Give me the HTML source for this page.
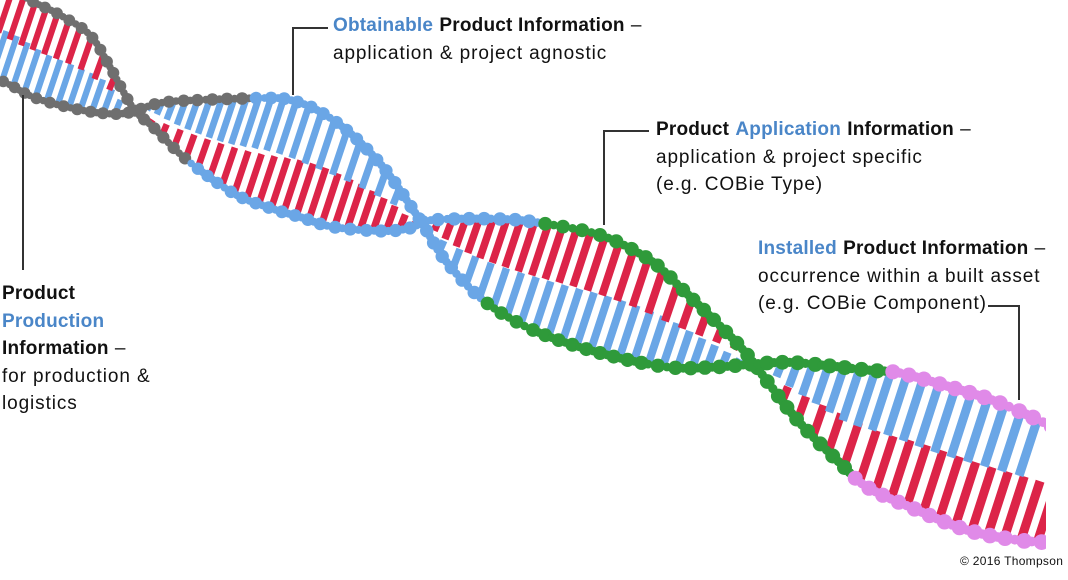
<!DOCTYPE html>
<html><head><meta charset="utf-8"><style>
html,body{margin:0;padding:0;background:#fff;width:1068px;height:580px;overflow:hidden}
#wrap{position:relative;width:1068px;height:580px;font-family:"Liberation Sans",sans-serif;color:#111}
svg{position:absolute;left:0;top:0}
.t{position:absolute;font-size:19px;line-height:27.5px;white-space:nowrap;letter-spacing:0.9px}
.b{font-weight:bold;letter-spacing:0.2px}.bl{color:#4a86c8;font-weight:bold;letter-spacing:0.2px}
.ln{position:absolute;background:#333}
</style></head><body><div id="wrap">
<svg id="s" width="1068" height="580" viewBox="0 0 1068 580"></svg>
<div class="ln" style="left:292px;top:27px;width:36px;height:2px"></div>
<div class="ln" style="left:292px;top:27px;width:2px;height:68px"></div>
<div class="ln" style="left:603px;top:130px;width:46px;height:2px"></div>
<div class="ln" style="left:603px;top:130px;width:2px;height:95px"></div>
<div class="ln" style="left:988px;top:305px;width:32px;height:2px"></div>
<div class="ln" style="left:1018px;top:305px;width:2px;height:95px"></div>
<div class="ln" style="left:22px;top:95px;width:2px;height:175px"></div>
<div class="t" style="left:333px;top:12px"><span class="bl">Obtainable</span> <span class="b">Product Information</span> –<br>application &amp; project agnostic</div>
<div class="t" style="left:656px;top:116px"><span class="b">Product</span> <span class="bl">Application</span> <span class="b">Information</span> –<br>application &amp; project specific<br>(e.g. COBie Type)</div>
<div class="t" style="left:758px;top:235px"><span class="bl">Installed</span> <span class="b">Product Information</span> –<br>occurrence within a built asset<br>(e.g. COBie Component)</div>
<div class="t" style="left:2px;top:280px"><span class="b">Product</span><br><span class="bl">Production</span><br><span class="b">Information</span> –<br>for production &amp;<br>logistics</div>
<div class="t" style="left:960px;top:553px;font-size:12px;line-height:16px;letter-spacing:0.3px">© 2016 Thompson</div>
</div>
<script>
var P=[[-30,-35],[0,-20],[30,0],[60,15],[90,35],[110,67],[133,108],[153,127],[187,160],[233,193],[267,207],[300,217],[333,227],[383,231],[410,228],[433,220],[500,219],[540,223],[600,235],[650,260],[683,290],[717,323],[745,352],[770,385],[800,423],[840,463],[867,487],[917,510],[967,530],[1017,540],[1060,543]];
var Q=[[-30,72],[0,80],[33,97],[67,107],[100,113],[127,113],[160,103],[200,100],[267,98],[290,100],[317,110],[350,133],[383,167],[410,205],[425,228],[445,260],[483,300],[533,330],[600,353],[667,367],[717,367],[767,363],[800,363],[867,370],[900,373],[950,387],[1000,403],[1060,430]];
function dense(p){var r=[];for(var i=0;i<p.length-1;i++){var p0=p[Math.max(i-1,0)],p1=p[i],p2=p[i+1],p3=p[Math.min(i+2,p.length-1)];
for(var j=0;j<20;j++){var t=j/20,t2=t*t,t3=t2*t;var f=function(a,b,c,d){return 0.5*(2*b+(-a+c)*t+(2*a-5*b+4*c-d)*t2+(-a+3*b-3*c+d)*t3)};
r.push([f(p0[0],p1[0],p2[0],p3[0]),f(p0[1],p1[1],p2[1],p3[1])]);}}r.push(p[p.length-1]);return r;}
var dP=dense(P),dQ=dense(Q);
function yAt(d,x){for(var i=0;i<d.length-1;i++){if(d[i+1][0]>=x&&d[i][0]<=x){var f=(x-d[i][0])/((d[i+1][0]-d[i][0])||1);return d[i][1]+f*(d[i+1][1]-d[i][1]);}}return d[d.length-1][1];}
function col(x,k){var g=k?250:190,b=k?485:540,p=k?885:852;if(x<g)return'#6f6f6f';if(x<b)return'#6aa6e6';if(x<p)return'#2f9a3a';return'#e08ae8';}
var o='';
for(var x=-20;x<1050;x+=11+Math.max(x,0)*0.0055){var yp=yAt(dP,x),yq=yAt(dQ,x),m=(yp+yq)/2,w=(6+Math.max(x,0)*0.003).toFixed(1);
if(Math.abs(yp-yq)>18){var sp=yp>m?5:-5,sq=yq>m?5:-5;
o+='<line x1="'+x+'" y1="'+yp+'" x2="'+(x+(yp-m)*0.3)+'" y2="'+(m+sp)+'" stroke="#dc2448" stroke-width="'+w+'"/>';
o+='<line x1="'+x+'" y1="'+yq+'" x2="'+(x+(yq-m)*0.3)+'" y2="'+(m+sq)+'" stroke="#6aa6e6" stroke-width="'+w+'"/>';}}
[dP,dQ].forEach(function(d,k){var acc=0,n=0;for(var i=1;i<d.length;i++){var dx=d[i][0]-d[i-1][0],dy=d[i][1]-d[i-1][1];acc+=Math.sqrt(dx*dx+dy*dy);
var x=d[i][0],sc=1+Math.max(x,0)*0.00035;
if(acc>=5.5*sc){acc=0;n++;var y=d[i][1];o+='<circle cx="'+x.toFixed(1)+'" cy="'+y.toFixed(1)+'" r="'+((n%2?5.8:3.6)*sc).toFixed(1)+'" fill="'+col(x,k)+'"/>';}}});
o+='<rect x="1046" y="0" width="22" height="580" fill="#fff"/>';
document.getElementById('s').innerHTML=o;
</script>
</body></html>
